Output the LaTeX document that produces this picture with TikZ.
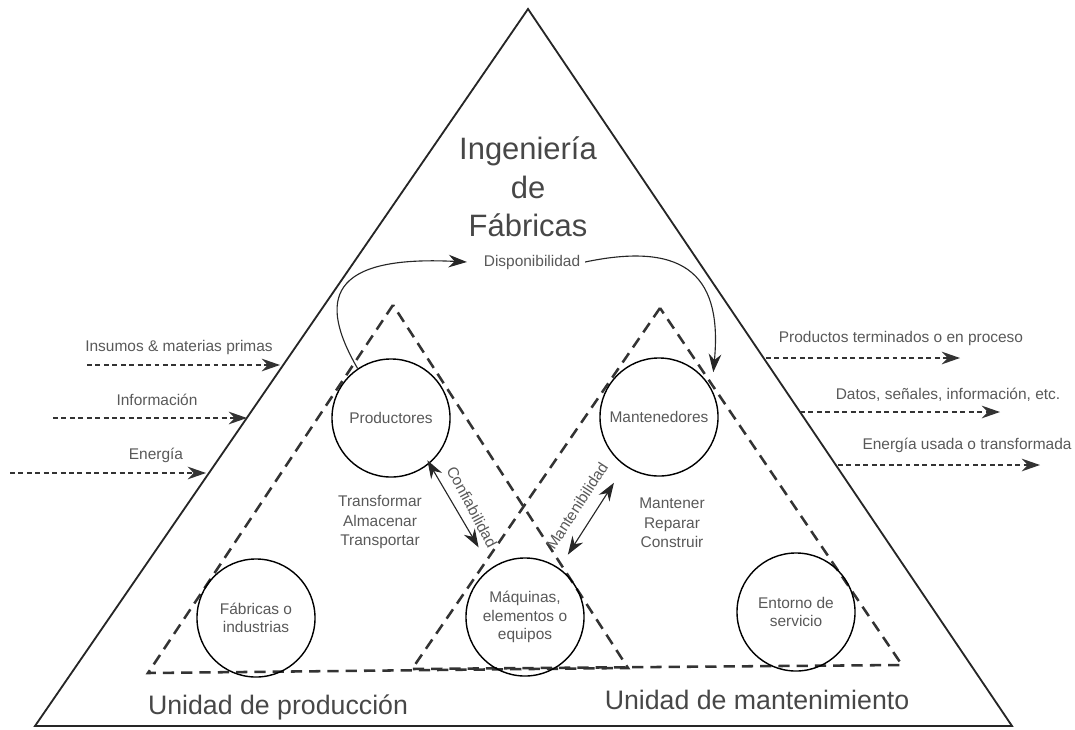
\documentclass[tikz,border=0pt]{standalone}
\usepackage{fontspec}
\setmainfont{Liberation Sans}
\usepackage{tikz}
\usetikzlibrary{arrows.meta}
\usetikzlibrary{positioning}

\begin{document}
\begin{tikzpicture}[x=0.025cm,y=-0.025cm,
    bigtri/.style={line width=1.3pt,black!85,line join=miter},
    unidad/.style={dash pattern=on 8pt off 5pt,line width=1.8pt,black!80},
    rol/.style={circle,draw,line width=1pt,minimum size=2.95cm,align=center,text=black!65,font=\fontsize{11}{13}\selectfont},
    txt/.style={text=black!65,align=center,font=\fontsize{11}{14}\selectfont},
    flujo/.style={dash pattern=on 3.5pt off 2.5pt,line width=1pt,black!80,-{Stealth[length=13pt,width=9pt]}},
    rel/.style={line width=0.8pt,black!85,{Stealth[length=13pt,width=9pt]}-{Stealth[length=13pt,width=9pt]}},
    disp/.style={line width=0.8pt,black!85,-{Stealth[length=13pt,width=9pt]}}]
            \useasboundingbox (0,0) rectangle (1075,729);
            \coordinate (top) at (528,9);
            \coordinate (bl) at (35,726);
            \coordinate (br) at (1012,726);
            \draw[bigtri] (top) -- (bl) -- (br) -- cycle;
            \draw[unidad] (393,305) -- (148,673) -- (628,668) -- cycle;
            \draw[unidad] (660,308) -- (412,669) -- (902,665) -- cycle;
            \begin{scope}[every node/.style={rol}]
              \node (prod) at (391,418) {Productores};
              \node (mant) at (659,417) {Mantenedores};
              \node (fab) at (256,618) {F\'abricas o\\industrias};
              \node (maq) at (525,617) {M\'aquinas,\\elementos o\\equipos};
              \node (ent) at (796,612) {Entorno de\\servicio};
            \end{scope}
            \node[txt,text=black!72,font=\fontsize{22}{27.5}\selectfont] (ing) at (528,187) {Ingenier\'ia\\de\\F\'abricas};
            \node[txt] (disponib) at (532,262) {Disponibilidad};
            \node[txt] (tareasp) at (380,522) {Transformar\\Almacenar\\Transportar};
            \node[txt] (tareasm) at (672,523) {Mantener\\Reparar\\Construir};
            \node[txt,rotate=-62] (conf) at (472,507) {Confiabilidad};
            \node[txt,rotate=57] (mtb) at (577,506) {Mantenibilidad};
            \node[txt,text=black!72,font=\fontsize{19}{22}\selectfont] (up) at (278,707) {Unidad de producci\'on};
            \node[txt,text=black!72,font=\fontsize{19}{22}\selectfont] (um) at (757,700) {Unidad de mantenimiento};
            \draw[disp] (prod.124) .. controls (318,300) and (328,255) .. ([xshift=-0.3cm]disponib.west);
            \draw[disp,shorten >=0.42cm] (disponib.east) .. controls (690,240) and (722,280) .. (mant.28);
            \draw[rel,shorten <=-0.1cm,shorten >=0.6cm] (prod.-50) -- (maq.125);
            \draw[rel,shorten <=0.5cm,shorten >=0.4cm] (mant.-125) -- (maq.55);
            \node[txt] (ins) at (179,347) {Insumos \& materias primas};
            \node[txt] (inf) at (157,400) {Informaci\'on};
            \node[txt] (ene) at (156,455) {Energ\'ia};
            \coordinate (ins0) at (87,365);  \coordinate (ins1) at (280,365);
            \coordinate (inf0) at (53,418);  \coordinate (inf1) at (247,418);
            \coordinate (ene0) at (10,473);  \coordinate (ene1) at (206,473);
            \draw[flujo] (ins0) -- (ins1);
            \draw[flujo] (inf0) -- (inf1);
            \draw[flujo] (ene0) -- (ene1);
            \node[txt] (prd) at (901,338) {Productos terminados o en proceso};
            \node[txt] (dat) at (948,395) {Datos, se\~nales, informaci\'on, etc.};
            \node[txt] (enu) at (967,445) {Energ\'ia usada o transformada};
            \coordinate (prd0) at (766,358); \coordinate (prd1) at (960,358);
            \coordinate (dat0) at (800,412); \coordinate (dat1) at (1000,412);
            \coordinate (enu0) at (838,465); \coordinate (enu1) at (1040,465);
            \draw[flujo] (prd0) -- (prd1);
            \draw[flujo] (dat0) -- (dat1);
            \draw[flujo] (enu0) -- (enu1);
          \end{tikzpicture}
\end{document}
